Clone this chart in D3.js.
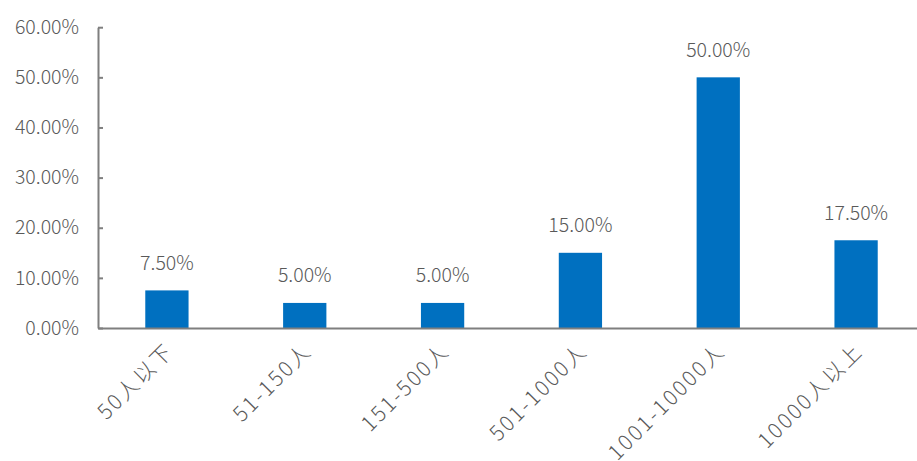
<!DOCTYPE html>
<html><head><meta charset="utf-8">
<script src="https://cdn.jsdelivr.net/npm/d3@7"></script>
<style>
html,body{margin:0;padding:0;background:#fff;overflow:hidden}
svg{display:block}
text{font-family:"Noto Sans CJK SC","Noto Sans",sans-serif;fill:#595959;font-weight:300}
</style></head><body>
<script>
const categories = ["50人以下","51-150人","151-500人","501-1000人","1001-10000人","10000人以上"];
const values = [7.5, 5.0, 5.0, 15.0, 50.0, 17.5];
const yTicks = [0, 10, 20, 30, 40, 50, 60];

(function(){
const W = 917, H = 461;
const mLeft = 98, mBottom = 328, mTop = 27.2;
const svg = d3.select("body").append("svg").attr("width", W).attr("height", H);

const x = d3.scaleBand().domain(categories).range([mLeft, 925]).paddingInner(0.686).paddingOuter(0.343);
const y = d3.scaleLinear().domain([0, 60]).range([mBottom, mTop]);

// bars
svg.selectAll("rect.bar").data(values).enter().append("rect")
  .attr("class","bar")
  .attr("x", (d,i) => x(categories[i]))
  .attr("width", x.bandwidth())
  .attr("y", d => y(d))
  .attr("height", d => y(0) - y(d))
  .attr("fill", "#0070C0");

// y axis
const yAxis = d3.axisLeft(y).tickValues(yTicks).tickSizeInner(-5).tickSizeOuter(0)
  .tickFormat(d => d.toFixed(2) + "%").tickPadding(19);
const gy = svg.append("g").attr("transform", `translate(${mLeft},0)`).call(yAxis);
gy.select(".domain").attr("stroke", "#7f7f7f").attr("stroke-width", 2);
gy.selectAll(".tick line").attr("stroke", "#7f7f7f").attr("stroke-width", 2);
gy.selectAll(".tick text").attr("font-size", 19.5).attr("fill", "#595959")
  .style("font-family", '"Noto Sans CJK SC","Noto Sans",sans-serif');

// x axis
const xAxis = d3.axisBottom(x).tickSize(0).tickSizeOuter(0);
const gx = svg.append("g").attr("transform", `translate(0,${mBottom})`).call(xAxis);
gx.select(".domain").attr("stroke", "#7f7f7f").attr("stroke-width", 2);
gx.selectAll(".tick text")
  .attr("font-size", 21).attr("fill", "#595959")
  .style("font-family", '"Noto Sans CJK SC","Noto Sans",sans-serif')
  .style("letter-spacing", "2.3px")
  .attr("text-anchor", "end")
  .attr("dy", "0.35em")
  .attr("y", 0).attr("x", 0)
  .attr("transform", "translate(3,19) rotate(-45)");

// value labels
svg.selectAll("text.val").data(values).enter().append("text")
  .attr("class","val")
  .attr("x", (d,i) => x(categories[i]) + x.bandwidth()/2)
  .attr("y", d => y(d) - 20.5)
  .attr("text-anchor", "middle")
  .attr("font-size", 19.5)
  .text(d => d.toFixed(2) + "%");
})();
</script>
</body></html>
